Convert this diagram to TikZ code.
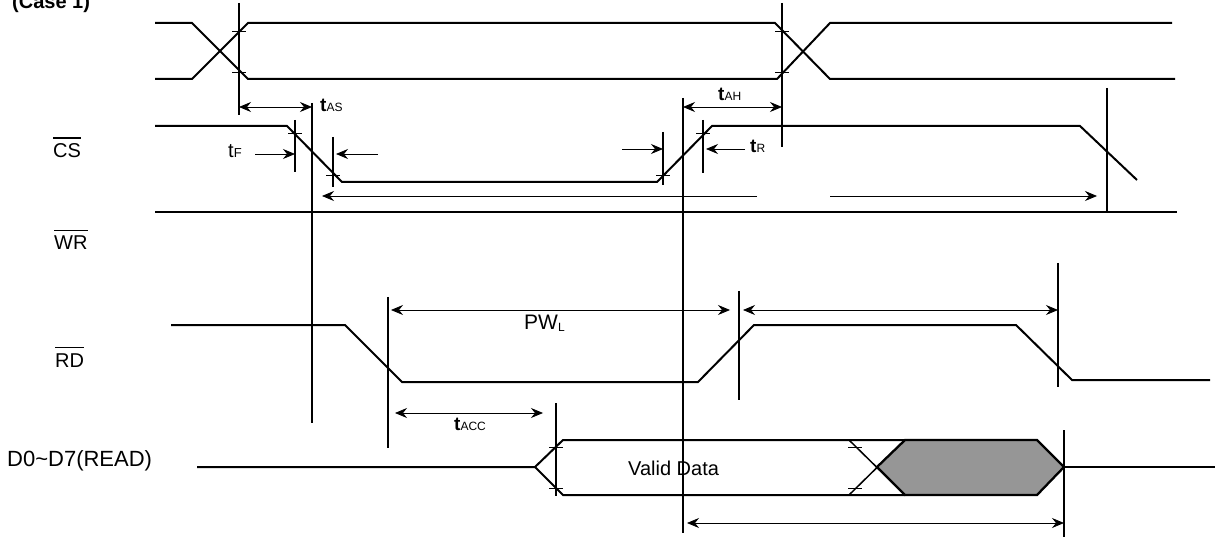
\documentclass[tikz,border=0pt]{standalone}
\usepackage{fontspec}
\setmainfont{Liberation Sans}
\usetikzlibrary{arrows.meta}
\definecolor{validgray}{HTML}{969696}
\newcommand{\barsig}[1]{\setbox0\hbox{#1}\rlap{\rule[\dimexpr\ht0+5.5pt\relax]{\wd0}{1.2pt}}\box0}
\newcommand{\tlbl}[1]{{\fontsize{19}{21}\selectfont\bfseries t}{\fontsize{12}{14}\selectfont #1}}

\begin{document}
\begin{tikzpicture}[x=1pt,y=-1pt,
  sig/.style={line width=2pt},
  bus/.style={line width=2.7pt},
  refline/.style={line width=1.3pt},
  tickmark/.style={line width=0.9pt},
  dim/.style={line width=0.8pt},
  >={Stealth[length=12pt,width=10pt,inset=4pt]},
  lbl/.style={inner sep=0pt,anchor=base west,font=\fontsize{20}{24}\selectfont}]
\useasboundingbox (0,0) rectangle (1218,537);
\node[lbl,font=\bfseries\fontsize{20}{24}\selectfont] (case) at (12,9) {(Case 1)};
\node[lbl] (cs) at (53,158) {\barsig{CS}};
\node[lbl] (wr) at (54,250) {\barsig{WR}};
\node[lbl] (rd) at (55,367) {\barsig{RD}};
\node[lbl,font=\fontsize{22}{26}\selectfont] (data) at (7,466) {D0\textasciitilde D7(READ)};

\foreach \n/\x/\ya/\yb in {addr1/239/3/115, csf/312/103/423, addr2/782/3/147, csr/683/98/533,
    cse/1107/88/212, rdf/388/297/448, rdr/739/291/400, rde/1058/263/387, dv/556/403/496,
    dz/1064/430/537, tf1/295/120/172, tf2/333/137/187, tr1/663/132/185, tr2/703/120/173}
  {\coordinate (\n) at (\x,\ya); \draw[refline] (\n) -- (\x,\yb);}
\foreach \x/\y in {239/31, 239/72, 782/31, 782/72, 295/133, 333/175, 663/175, 703/133,
    556/447, 556/488, 855/447, 855/488}
  \draw[tickmark] (\x-7,\y) -- (\x+7,\y);

\draw[sig] (155,23) -- (192,23) -- (248,79) -- (777,79) -- (830,23) -- (1172,23);
\draw[sig] (155,79) -- (192,79) -- (248,23) -- (775,23) -- (830,79) -- (1175,79);
\draw[sig] (155,126) -- (287,126) -- (342,182) -- (657,182) -- (712,126) -- (1080,126) -- (1137,180);
\draw[bus] (155,212) -- (1177,212);
\draw[sig] (171,325) -- (345,325) -- (402,382) -- (698,382) -- (754,325) -- (1016,325) -- (1072,380) -- (1210,380);
\draw[sig] (197,467) -- (535,467) -- (563,440) -- (905,440);
\draw[sig] (535,467) -- (563,495) -- (905,495);
\draw[line width=1.5pt] (849,440) -- (905,495) (849,495) -- (905,440);
\filldraw[sig,line width=2.3pt,fill=validgray] (877,467) -- (905,440) -- (1037,440) -- (1064,467) -- (1037,495) -- (905,495) -- cycle;
\draw[sig] (dz |- 0,467) -- (1215,467);

\draw[dim,<->] (addr1 |- 0,107) -- (csf |- 0,107);
\draw[dim,<->] (csr |- 0,107) -- (addr2 |- 0,107);
\draw[dim,->] (255,154) -- (tf1 |- 0,154);
\draw[dim,->] (378,154) -- (336,154);
\draw[dim,->] (622,149) -- (tr1 |- 0,149);
\draw[dim,->] (745,149) -- (706,149);
\draw[dim,->] (757,196) -- (322,196);
\draw[dim,->] (830,196) -- (1097,196);
\draw[dim,<->] (391,310) -- (730,310);
\draw[dim,<->] (743,310) -- (rde |- 0,310);
\draw[dim,<->] (395,413) -- (543,413);
\draw[dim,<->] (687,523) -- (dz |- 0,523);

\node[lbl] (tas) at (320,112) {\tlbl{AS}};
\node[lbl] (tf) at (228,158) {{\fontsize{20}{24}\selectfont t}{\fontsize{13}{15}\selectfont F}};
\node[lbl] (tah) at (718,101) {\tlbl{AH}};
\node[lbl] (tr) at (750,153) {\tlbl{R}};
\node[lbl] (tacc) at (454,430) {\tlbl{ACC}};
\node[lbl,font=\fontsize{21}{25}\selectfont] (pwl) at (524,330) {PW\raisebox{-1.5pt}{\fontsize{12}{14}\selectfont L}};
\node[lbl] (valid) at (628,475) {Valid Data};
\end{tikzpicture}
\end{document}
